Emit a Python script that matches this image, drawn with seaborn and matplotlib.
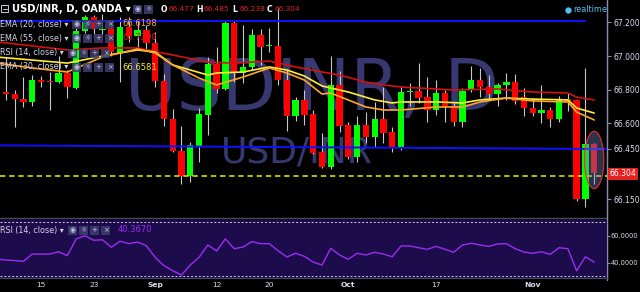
import matplotlib
matplotlib.use("Agg")
import matplotlib.pyplot as plt
import seaborn as sns
import numpy as np
import pandas as pd
from matplotlib.patches import Rectangle, Ellipse

sns.set_style("dark")
plt.rcParams['font.family'] = ['DejaVu Sans']

# ---------------- data (daily candles, 8 Aug .. 10 Nov 2016) ----------------
opens = [66.798, 66.786, 66.774, 66.744, 66.727, 66.857, 66.851, 66.845, 66.899, 66.810,
         67.149, 67.232, 67.155, 67.167, 67.018, 67.173, 67.119, 67.155, 67.077, 66.851,
         66.626, 66.435, 66.287, 66.465, 66.649, 66.953, 66.804, 67.196, 66.899, 66.935,
         67.125, 67.057, 67.060, 66.857, 66.643, 66.739, 66.655, 66.429, 66.340, 66.828,
         66.590, 66.400, 66.590, 66.519, 66.626, 66.548, 66.459, 66.786, 66.792, 66.756,
         66.679, 66.780, 66.703, 66.608, 66.804, 66.857, 66.816, 66.774, 66.828, 66.845,
         66.756, 66.691, 66.661, 66.679, 66.626, 66.744, 66.739, 66.150, 66.477]
highs = [66.822, 66.994, 66.798, 66.875, 66.887, 66.881, 66.905, 67.000, 66.917, 67.167,
         67.244, 67.244, 67.250, 67.185, 67.232, 67.232, 67.214, 67.185, 67.143, 66.893,
         66.685, 66.584, 66.489, 66.691, 66.994, 67.054, 67.214, 67.214, 67.185, 67.161,
         67.161, 67.167, 67.286, 66.917, 66.756, 66.798, 66.679, 66.542, 67.000, 66.911,
         66.608, 66.643, 66.667, 66.727, 66.816, 66.578, 66.816, 66.840, 66.958, 66.875,
         66.857, 66.798, 66.721, 66.810, 66.941, 66.929, 66.887, 66.840, 66.899, 66.893,
         66.810, 66.744, 66.828, 66.697, 66.762, 66.780, 66.745, 66.929, 66.485]
lows = [66.756, 66.739, 66.578, 66.697, 66.703, 66.816, 66.679, 66.840, 66.750, 66.804,
        67.137, 67.113, 67.113, 67.000, 66.845, 67.084, 67.054, 67.036, 66.816, 66.584,
        66.429, 66.239, 66.251, 66.370, 66.530, 66.780, 66.798, 66.845, 66.840, 66.917,
        66.947, 67.024, 66.828, 66.554, 66.614, 66.590, 66.418, 66.334, 66.328, 66.548,
        66.388, 66.370, 66.483, 66.459, 66.483, 66.429, 66.441, 66.703, 66.721, 66.608,
        66.649, 66.608, 66.584, 66.578, 66.786, 66.756, 66.739, 66.703, 66.739, 66.715,
        66.643, 66.643, 66.602, 66.578, 66.608, 66.673, 66.138, 66.102, 66.238]
closes = [66.780, 66.774, 66.744, 66.727, 66.857, 66.845, 66.848, 66.899, 66.816, 67.149,
          67.232, 67.161, 67.161, 67.024, 67.173, 67.119, 67.155, 67.077, 66.851, 66.626,
          66.435, 66.287, 66.471, 66.655, 66.953, 66.804, 67.196, 66.899, 66.935, 67.125,
          67.054, 67.063, 66.857, 66.643, 66.739, 66.649, 66.423, 66.340, 66.828, 66.584,
          66.400, 66.590, 66.519, 66.626, 66.542, 66.459, 66.786, 66.792, 66.750, 66.679,
          66.780, 66.703, 66.608, 66.792, 66.857, 66.816, 66.774, 66.828, 66.845, 66.733,
          66.691, 66.661, 66.679, 66.626, 66.744, 66.733, 66.150, 66.477, 66.304]
rsi = [42.7, 42.0, 41.6, 41.0, 46.4, 46.4, 46.4, 48.1, 45.2, 57.6,
       60.0, 56.6, 57.0, 51.4, 55.9, 54.1, 55.3, 52.6, 44.0, 37.8,
       34.1, 30.9, 38.3, 44.0, 53.1, 48.7, 57.6, 50.4, 51.6, 55.6,
       54.1, 54.1, 48.9, 44.2, 47.0, 44.7, 40.5, 38.3, 50.7, 45.7,
       42.5, 47.0, 45.7, 47.7, 46.4, 44.4, 52.4, 52.4, 51.1, 49.9,
       52.1, 49.9, 47.7, 53.1, 54.4, 53.1, 52.1, 53.9, 54.1, 50.4,
       47.9, 47.0, 48.1, 46.2, 51.1, 50.4, 34.1, 44.4, 40.4]

ema55_idx = [0, 4, 8, 12, 16, 20, 24, 27, 31, 34, 37, 39, 42, 44, 46, 52, 57, 61, 65, 66, 68]
ema55 = [67.084, 67.060, 67.036, 67.048, 67.048, 67.006, 66.964, 66.958, 66.970, 66.935,
         66.905, 66.887, 66.845, 66.828, 66.816, 66.798, 66.804, 66.786, 66.780, 66.756, 66.739]
ema30_idx = [0, 4, 8, 12, 16, 18, 20, 24, 25, 28, 31, 33, 35, 37, 40, 43, 45, 46, 50, 53,
             55, 58, 61, 65, 66, 68]
ema30 = [66.994, 66.976, 66.958, 67.000, 67.036, 67.024, 66.947, 66.887, 66.899, 66.905,
         66.935, 66.917, 66.881, 66.822, 66.786, 66.739, 66.721, 66.727, 66.727, 66.721,
         66.739, 66.750, 66.744, 66.739, 66.691, 66.661]
ema20_idx = [0, 4, 8, 12, 16, 18, 20, 23, 25, 28, 31, 33, 35, 37, 38, 42, 44, 46, 50, 53,
             55, 58, 61, 65, 66, 68]
ema20 = [66.958, 66.929, 66.905, 66.994, 67.042, 67.018, 66.947, 66.869, 66.828, 66.875,
         66.929, 66.899, 66.857, 66.774, 66.780, 66.697, 66.679, 66.679, 66.697, 66.697,
         66.727, 66.750, 66.733, 66.727, 66.667, 66.620]

tick_idx = [5, 11, 18, 25, 31, 40, 50, 61]
tick_labels = ["15", "23", "Sep", "12", "20", "Oct", "17", "Nov"]
month_labels = ["Sep", "Oct", "Nov"]
price_ticks = [67.2, 67.0, 66.8, 66.6, 66.45, 66.15]
rsi_ticks = [60, 40]
resistance = 67.206
support_ends = [66.469, 66.447]
last_price = 66.304
price_line = 66.287
legend_rows = [("EMA (20, close) ▾", "66.6198", "#ffa726"),
               ("EMA (55, close) ▾", "66.7390", "#e01818"),
               ("RSI (14, close) ▾", "", ""),
               ("EMA (30, close) ▾", "66.6581", "#ffee33")]
ohlc_text = [("O", "66.477"), ("H", "66.485"), ("L", "66.238"), ("C", "66.304")]

# ---------------- figure ----------------
W, H = 640, 292
fig = plt.figure(figsize=(6.4, 2.92), dpi=100, facecolor='black')


def rect(x0, y0, x1, y1):
    return [x0 / W, 1 - y1 / H, (x1 - x0) / W, (y1 - y0) / H]


bg = fig.add_axes([0, 0, 1, 1], zorder=0)
bg.set_xlim(0, W); bg.set_ylim(H, 0); bg.axis('off')
ax = fig.add_axes(rect(0, 0, 607, 216), zorder=1)
rax = fig.add_axes(rect(0, 220, 607, 278), zorder=1)
fg = fig.add_axes([0, 0, 1, 1], zorder=5)
fg.set_xlim(0, W); fg.set_ylim(H, 0); fg.axis('off')

wm = '#383870'
bg.text(312, 110, "USDINR, D", fontsize=51, color=wm, ha='center', va='baseline')
bg.text(297, 162, "USD/INR", fontsize=26, color=wm, ha='center', va='baseline')
bg.plot([0, 607], [218, 218], color='#4a4a6e', lw=1)
bg.plot([607, 607], [0, 280], color='#8a8aae', lw=1)

ax.set_facecolor('none')
xl = (0.33, 69.46)
ax.set_xlim(*xl)
ax.set_ylim(66.049, 67.333)

idx = np.arange(len(opens))
df = pd.DataFrame({"i": idx, "o": opens, "h": highs, "l": lows, "c": closes, "rsi": rsi})
up = df.c >= df.o
cols = np.where(up, '#00ff00', '#ff0000')
ax.vlines(df.i, df.l, df.h, color='#c8c8c8', lw=0.8, zorder=2)
bottom = np.minimum(df.o, df.c)
height = np.maximum((df.c - df.o).abs(), 0.006)
ax.bar(df.i, height, bottom=bottom, width=0.72, color=cols, linewidth=0, zorder=3)

sns.lineplot(x=ema55_idx, y=ema55, ax=ax, color='#d41010', lw=1.2, zorder=4)
sns.lineplot(x=ema30_idx, y=ema30, ax=ax, color='#ffee33', lw=1.2, zorder=4)
sns.lineplot(x=ema20_idx, y=ema20, ax=ax, color='#ffa726', lw=1.2, zorder=4)

ax.plot([xl[0], 66.96], [resistance, resistance], color='#1010ff', lw=1.4, zorder=5)
ax.plot([xl[0], xl[1]], support_ends, color='#1010ff', lw=1.4, zorder=5)
ax.axhline(price_line, color='#f0f000', lw=1.1, ls=(0, (3.5, 2.5)), zorder=5)
ax.add_patch(Ellipse((68, 66.382), 2.2, 0.34, facecolor=(0.45, 0.5, 0.75, 0.4),
                     edgecolor='#e03030', lw=0.8, zorder=6))

ax.set_xticks([])
ax.yaxis.tick_right()
ax.set_yticks(price_ticks)
ax.set_yticklabels([f"{v:.3f}" for v in price_ticks])
ax.tick_params(axis='y', colors='#8a8aae', labelcolor='#dcdcec', labelsize=5.5,
               length=3, width=0.8, pad=2)
for s in ['top', 'left', 'bottom']:
    ax.spines[s].set_visible(False)
ax.spines['right'].set_color('#8a8aae')
ax.grid(False)
ax.set_xlabel(''); ax.set_ylabel('')

# RSI panel
rax.set_facecolor('#1d0c4b')
rax.set_xlim(*xl)
rax.set_ylim(28.7, 71.6)
sns.lineplot(data=df, x="i", y="rsi", ax=rax, color='#9b2cf5', lw=1.0)
rax.axhline(70, color='#d0d0d0', lw=0.7, ls=(0, (2, 2)))
rax.axhline(30, color='#d0d0d0', lw=0.7, ls=(0, (2, 2)))
rax.yaxis.tick_right()
rax.set_yticks(rsi_ticks)
rax.set_yticklabels([f"{v:.4f}" for v in rsi_ticks])
rax.set_xticks(tick_idx)
rax.set_xticklabels(tick_labels)
rax.tick_params(axis='y', colors='#8a8aae', labelcolor='#dcdcec', labelsize=4.8,
                length=2, width=0.8, pad=0.8)
rax.tick_params(axis='x', colors='#8a8aae', labelcolor='#dcdcec', labelsize=5.4,
                length=1.5, width=0.8, pad=1.2)
for lbl in rax.get_xticklabels():
    if lbl.get_text() in month_labels:
        lbl.set_fontweight('bold')
for s in ['top', 'left']:
    rax.spines[s].set_visible(False)
rax.spines['right'].set_color('#8a8aae')
rax.spines['bottom'].set_color('#4a4a6e')
rax.grid(False)
rax.set_xlabel(''); rax.set_ylabel('')

# ---------------- overlay texts ----------------
fg.add_patch(Rectangle((1, 5), 7, 7, fill=False, edgecolor='#c8c8e0', lw=0.7))
fg.plot([2.5, 6.5], [8.5, 8.5], color='#c8c8e0', lw=0.7)
fg.text(12, 9, "USD/INR, D, OANDA ▾", color='white', fontsize=7.2, fontweight='bold',
        va='center', ha='left')


def icon_boxes(x0, y, n, syms):
    for k in range(n):
        bx = x0 + k * 11
        fg.add_patch(Rectangle((bx, y - 4.5), 9, 9, facecolor='#3e3e6e', alpha=0.85,
                               edgecolor='none'))
        fg.text(bx + 4.5, y, syms[k], color='#c8c8e6', fontsize=5, ha='center', va='center')


icon_boxes(133, 9, 2, ['◉', '☼'])
xpos = [161, 196, 232, 267]
for (lab, val), xp in zip(ohlc_text, xpos):
    fg.text(xp, 9, lab, color='white', fontsize=5.6, fontweight='bold', va='center')
    fg.text(xp + 7.5, 9, val, color='#e02424', fontsize=5.3, va='center')

rows_y = [24, 38, 53, 67]
for (txt, val, col), yy in zip(legend_rows, rows_y):
    fg.text(0, yy, txt, color='#d2d2ea', fontsize=5.8, va='center', ha='left')
    x0 = 68 if txt.startswith("RSI") else 72
    icon_boxes(x0, yy, 4, ['◉', '☼', '+', '×'])
    if val:
        fg.text(122, yy, val, color=col, fontsize=6, va='center', ha='left')

fg.text(0, 230, "RSI (14, close) ▾", color='#d2d2ea', fontsize=5.8, va='center', ha='left')
icon_boxes(68, 230, 4, ['◉', '☼', '+', '×'])
fg.text(118, 230, "40.3670", color='#9b2cf5', fontsize=6, va='center', ha='left')

fg.plot([568], [9.5], 'o', color='#4fc3f7', ms=3.5)
fg.text(573, 9.5, "realtime", color='#4fc3f7', fontsize=5.8, va='center', ha='left')

fg.add_patch(Rectangle((608, 167.5), 30, 12, facecolor='#e52222', edgecolor='none'))
fg.text(623, 173.5, f"{last_price:.3f}", color='white', fontsize=5.5, ha='center', va='center')

fig.savefig("out.png", dpi=100, facecolor='black')
